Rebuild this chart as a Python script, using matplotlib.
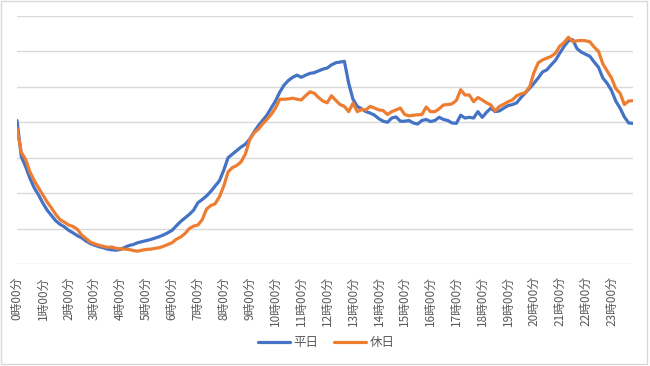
import numpy as np
import matplotlib
matplotlib.use("Agg")
import matplotlib.pyplot as plt
from matplotlib.patches import Rectangle

plt.rcParams['font.family'] = ['Noto Sans CJK JP', 'DejaVu Sans']

# 10-minute steps, 0:00 .. 23:50
hour_labels = [f"{h}時00分" for h in range(24)]

weekday = [
    4.05, 3.03, 2.75, 2.42, 2.15, 1.95, 1.72, 1.52, 1.37, 1.22, 1.12, 1.05,
    0.95, 0.88, 0.80, 0.74, 0.65, 0.58, 0.53, 0.49, 0.46, 0.42, 0.40, 0.39,
    0.41, 0.47, 0.52, 0.55, 0.60, 0.63, 0.66, 0.69, 0.73, 0.77, 0.82, 0.88,
    0.95, 1.08, 1.20, 1.30, 1.40, 1.52, 1.73, 1.82, 1.92, 2.05, 2.20, 2.35,
    2.65, 3.00, 3.10, 3.20, 3.30, 3.38, 3.52, 3.72, 3.90, 4.05, 4.20, 4.40,
    4.60, 4.85, 5.05, 5.18, 5.27, 5.33, 5.27, 5.33, 5.38, 5.40, 5.45, 5.50,
    5.53, 5.62, 5.68, 5.70, 5.72, 5.10, 4.65, 4.45, 4.38, 4.30, 4.26, 4.20,
    4.10, 4.03, 4.00, 4.12, 4.15, 4.03, 4.03, 4.05, 3.98, 3.95, 4.05, 4.08,
    4.02, 4.05, 4.14, 4.08, 4.05, 3.98, 3.97, 4.20, 4.12, 4.14, 4.12, 4.30,
    4.14, 4.28, 4.40, 4.30, 4.32, 4.40, 4.47, 4.50, 4.55, 4.70, 4.83, 4.96,
    5.10, 5.25, 5.42, 5.48, 5.62, 5.75, 5.95, 6.14, 6.30, 6.33, 6.08, 5.98,
    5.92, 5.86, 5.70, 5.55, 5.25, 5.10, 4.90, 4.60, 4.40, 4.15, 3.98, 3.97,
]

holiday = [
    3.83, 3.15, 2.95, 2.60, 2.35, 2.15, 1.95, 1.75, 1.58, 1.40, 1.25, 1.18,
    1.10, 1.06, 0.98, 0.82, 0.72, 0.62, 0.57, 0.53, 0.50, 0.47, 0.48, 0.44,
    0.43, 0.42, 0.41, 0.38, 0.36, 0.39, 0.41, 0.42, 0.44, 0.46, 0.50, 0.55,
    0.60, 0.70, 0.76, 0.86, 1.00, 1.07, 1.10, 1.25, 1.55, 1.65, 1.70, 1.90,
    2.20, 2.60, 2.72, 2.78, 2.88, 3.10, 3.50, 3.70, 3.80, 3.95, 4.08, 4.22,
    4.40, 4.65, 4.65, 4.66, 4.68, 4.65, 4.63, 4.75, 4.86, 4.82, 4.70, 4.60,
    4.55, 4.75, 4.62, 4.50, 4.45, 4.30, 4.54, 4.30, 4.36, 4.35, 4.45, 4.40,
    4.35, 4.33, 4.22, 4.30, 4.35, 4.40, 4.22, 4.18, 4.20, 4.21, 4.22, 4.43,
    4.30, 4.30, 4.38, 4.49, 4.50, 4.52, 4.62, 4.92, 4.77, 4.77, 4.58, 4.70,
    4.63, 4.55, 4.49, 4.32, 4.45, 4.51, 4.58, 4.63, 4.75, 4.80, 4.84, 5.00,
    5.40, 5.68, 5.76, 5.81, 5.86, 5.95, 6.15, 6.25, 6.40, 6.28, 6.30, 6.31,
    6.30, 6.27, 6.12, 6.00, 5.65, 5.45, 5.25, 4.95, 4.82, 4.50, 4.60, 4.61,
]

x = np.arange(len(weekday))

fig = plt.figure(figsize=(6.5, 3.66), dpi=100)
fig.patches.append(Rectangle((0.002, 0.006), 0.994, 0.99, transform=fig.transFigure,
                             fill=False, edgecolor="#d9d9d9", lw=1))
ax = fig.add_axes([17 / 650, 0.2787, 616 / 650, 0.6776])

ax.plot(x, weekday, color="#4472C4", lw=2.3, label="平日", solid_capstyle="round")
ax.plot(x, holiday, color="#ED7D31", lw=2.3, label="休日", solid_capstyle="round")

ax.set_xlim(0, len(x) - 1)
ax.set_ylim(0, 7)
ax.set_yticks(range(8))
ax.set_yticklabels([])
ax.yaxis.grid(True, color="#d9d9d9", lw=1)
ax.set_axisbelow(True)
ax.tick_params(axis="y", length=0)
ax.set_xticks(x[::6])
ax.set_xticklabels(hour_labels, rotation=90, fontsize=8.5, color="#595959")
ax.tick_params(axis="x", length=0, pad=9)
for s in ax.spines.values():
    s.set_visible(False)

fig.legend(loc="center", bbox_to_anchor=(0.502, 0.063), ncol=2, frameon=False,
           fontsize=9, labelcolor="#595959", handlelength=2.6, columnspacing=1.2,
           handletextpad=0.3)

plt.savefig("out.png", dpi=100)
